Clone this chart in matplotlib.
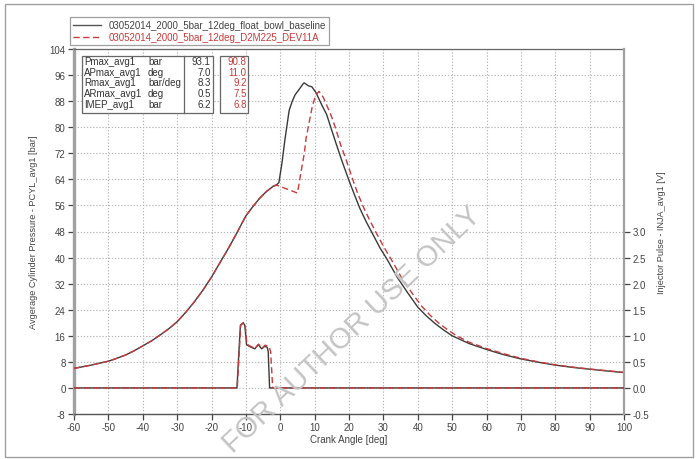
import matplotlib
matplotlib.use('Agg')
import matplotlib.pyplot as plt
import matplotlib.patches as mpatches
from matplotlib.lines import Line2D
import numpy as np

plt.rcParams['font.family'] = ['Liberation Sans', 'DejaVu Sans']
plt.rcParams['axes.unicode_minus'] = False

# ---- pressure traces (crank angle [deg] -> PCYL [bar]) ----
COMP_CA = [-60, -57.5, -55, -52.5, -50, -47.5, -45, -42.5, -40, -37.5, -35,
           -32.5, -30, -27.5, -25, -22.5, -20, -17.5, -15, -12.5, -10, -8,
           -6, -4, -2]
COMP_P = [6.0, 6.5, 7.0, 7.6, 8.2, 9.1, 10.1, 11.4, 12.9, 14.4, 16.2, 18.1,
          20.3, 23.2, 26.4, 30.0, 34.0, 38.5, 43.0, 47.8, 52.8, 55.6, 58.2,
          60.3, 61.9]

BASE_CA = COMP_CA + [-1, -0.4, 0.5, 1.4, 2.6, 3.5, 4.3, 5.7, 6.7, 7.0, 8.2,
                     9.2, 10.4, 12, 13.5, 15, 16.4, 18, 19.8, 21.5, 23.2, 25,
                     27.1, 29, 31, 34, 37, 40, 42.5, 45, 47.5, 50, 55, 60, 65,
                     70, 75, 80, 85, 90, 95, 100]
BASE_P = COMP_P + [62.4, 63.0, 69.0, 76.5, 85.2, 88.0, 89.9, 91.9, 93.4, 93.6,
                   92.7, 92.4, 90.6, 87.0, 83.9, 79.0, 74.5, 69.5, 64.2, 59.5,
                   55.0, 51.0, 46.8, 43.0, 39.6, 34.0, 29.3, 24.8, 22.1, 19.8,
                   17.8, 16.0, 13.6, 11.8, 10.2, 8.9, 7.9, 7.0, 6.3, 5.75,
                   5.2, 4.7]

DEV_CA = COMP_CA + [-1, 0, 1, 2, 3, 5.0, 6.0, 7.0, 7.5, 8.5, 9.4, 10.4, 11.3,
                    12.5, 14.7, 16, 17.6, 19, 21, 22.5, 24.4, 26, 28.3, 30,
                    32.2, 35.2, 38.2, 41.2, 43.5, 46, 48.5, 51, 55, 60, 65, 70,
                    75, 80, 85, 90, 95, 100]
DEV_P = COMP_P + [62.2, 61.8, 61.4, 61.0, 60.6, 59.8, 66.0, 72.0, 76.5, 82.0,
                  86.8, 90.0, 91.0, 89.2, 83.9, 80.0, 74.5, 70.5, 64.2, 59.8,
                  55.0, 51.5, 46.8, 43.5, 39.6, 34.0, 29.3, 25.0, 22.4, 20.0,
                  18.0, 16.2, 14.0, 12.1, 10.5, 9.1, 8.0, 7.1, 6.4, 5.8, 5.3,
                  4.8]

# ---- injector pulse (crank angle [deg] -> INJA [V]) ----
BASE_INJ_CA = [-60, -12.6, -11.6, -10.8, -10.3, -9.8, -8.8, -7.4, -6.4, -5.4,
               -4.5, -3.8, -3.5, -3.1, 100]
BASE_INJ_V = [0, 0, 1.2, 1.25, 1.2, 0.83, 0.79, 0.75, 0.83, 0.75, 0.80, 0.78,
              0.70, 0, 0]
DEV_INJ_CA = [-60, -12.5, -11.5, -10.7, -10.2, -9.7, -8.7, -7.3, -6.3, -5.3,
              -4.4, -3.3, -2.8, -2.2, 100]
DEV_INJ_V = [0, 0, 1.2, 1.25, 1.2, 0.84, 0.80, 0.76, 0.84, 0.76, 0.82, 0.80,
             0.70, 0, 0]

LABELS = ["03052014_2000_5bar_12deg_float_bowl_baseline",
          "03052014_2000_5bar_12deg_D2M225_DEV11A"]

STAT_NAMES = ["Pmax_avg1", "APmax_avg1", "Rmax_avg1", "ARmax_avg1", "IMEP_avg1"]
STAT_UNITS = ["bar", "deg", "bar/deg", "deg", "bar"]
STAT_BASE = ["93.1", "7.0", "8.3", "0.5", "6.2"]
STAT_DEV = ["90.8", "11.0", "9.2", "7.5", "6.8"]

X_TICKS = list(range(-60, 101, 10))
Y_TICKS = list(range(-8, 105, 8))
Y2_TICKS = [-0.5, 0.0, 0.5, 1.0, 1.5, 2.0, 2.5, 3.0]

DARK = "#3a3a3a"
RED = "#cc3a3a"
W, H = 696, 460
FS = 7


def fx(x):
    return x / W


def fy(y):
    return 1 - y / H


fig = plt.figure(figsize=(6.96, 4.60), dpi=100)
ax = fig.add_axes([fx(74), fy(415), fx(624) - fx(74), fy(50) - fy(415)])
ax2 = ax.twinx()

ax.plot(BASE_CA, BASE_P, color=DARK, lw=1.0, zorder=3)
ax.plot(DEV_CA, DEV_P, color=RED, lw=1.0, dashes=(4.5, 2.5), zorder=4)
ax2.plot(BASE_INJ_CA, BASE_INJ_V, color=DARK, lw=1.0, zorder=3)
ax2.plot(DEV_INJ_CA, DEV_INJ_V, color=RED, lw=1.0, dashes=(4.5, 2.5), zorder=4)

ax.set_xlim(-60, 100)
ax.set_ylim(-8, 104)
ax2.set_ylim(-0.5, 6.5)
ax.set_xticks(X_TICKS)
ax.set_yticks(Y_TICKS)
ax2.set_yticks(Y2_TICKS)
ax2.set_yticklabels([f"{v:.1f}" for v in Y2_TICKS])

ax.grid(True, color="#b8b8b8", linestyle=(0, (1.2, 1.6)), lw=0.8)
ax.set_axisbelow(True)

for a in (ax, ax2):
    a.tick_params(labelsize=FS, colors="#444444", length=4, width=0.9,
                  pad=2)
    for s in a.spines.values():
        s.set_visible(False)

ax.spines["left"].set_visible(True)
ax.spines["left"].set_color("#a0a0a0")
ax.spines["left"].set_linewidth(2.4)
ax.spines["bottom"].set_visible(True)
ax.spines["bottom"].set_color("#555555")
ax.spines["bottom"].set_linewidth(1.0)
ax.spines["top"].set_visible(True)
ax.spines["top"].set_color("#666666")
ax.spines["top"].set_linewidth(0.9)
ax2.spines["right"].set_visible(True)
ax2.spines["right"].set_color("#a0a0a0")
ax2.spines["right"].set_linewidth(1.6)

ax.set_xlabel("Crank Angle [deg]", fontsize=FS, color="#444444", labelpad=1)
ax.set_ylabel("Avgerage Cylinder Pressure - PCYL_avg1 [bar]", fontsize=6.6,
              color="#444444", labelpad=8)
ax2.set_ylabel("Injector Pulse - INJA_avg1 [V]", fontsize=6.6,
               color="#444444", labelpad=6)

# legend above the plot
handles = [Line2D([], [], color="#555555", lw=1.0),
           Line2D([], [], color=RED, lw=1.0, dashes=(4.5, 2.5))]
leg = fig.legend(handles, LABELS, loc="lower left",
                 bbox_to_anchor=(fx(70), fy(46)), fontsize=FS,
                 frameon=True, fancybox=False, edgecolor="#888888",
                 handlelength=2.9, handletextpad=0.8, labelspacing=0.2,
                 borderpad=0.3, borderaxespad=0)
leg.get_frame().set_linewidth(0.9)
for t, c in zip(leg.get_texts(), ["#444444", RED]):
    t.set_color(c)

# statistics boxes
for (x0, x1) in [(82, 213), (220, 248)]:
    fig.patches.append(mpatches.Rectangle((fx(x0), fy(114)), fx(x1) - fx(x0),
                                          fy(57) - fy(114),
                                          transform=fig.transFigure,
                                          fill=True, facecolor="white",
                                          edgecolor="#666666", lw=0.9,
                                          zorder=5))
fig.lines.append(Line2D([fx(184), fx(184)], [fy(57), fy(114)],
                        transform=fig.transFigure, color="#666666", lw=0.9,
                        zorder=6))
for i in range(len(STAT_NAMES)):
    yy = fy(62 + i * 10.75)
    fig.text(fx(84), yy, STAT_NAMES[i], fontsize=FS, color="#333333",
             va="center", zorder=7)
    fig.text(fx(148), yy, STAT_UNITS[i], fontsize=FS, color="#333333",
             va="center", zorder=7)
    fig.text(fx(210.5), yy, STAT_BASE[i], fontsize=FS, color="#333333",
             va="center", ha="right", zorder=7)
    fig.text(fx(246.5), yy, STAT_DEV[i], fontsize=FS, color=RED,
             va="center", ha="right", zorder=7)

# watermark
fig.text(fx(352), fy(330), "FOR AUTHOR USE ONLY", fontsize=21,
         color="#c4c4c4", rotation=43.5, ha="center", va="center",
         rotation_mode="anchor", zorder=10)

# outer frame
fig.patches.append(mpatches.Rectangle((fx(5), fy(458)), fx(693) - fx(5),
                                      fy(5) - fy(458),
                                      transform=fig.transFigure, fill=False,
                                      edgecolor="#a0a0a0", lw=1.0))

fig.savefig("out.png", dpi=100)
